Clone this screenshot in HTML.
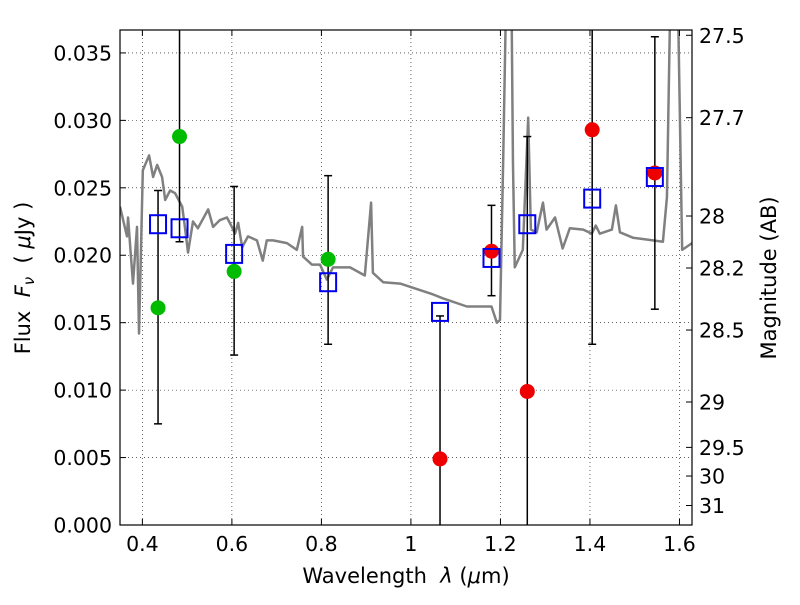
<!DOCTYPE html>
<html><head><meta charset="utf-8"><style>
body{margin:0;background:#fff;}
svg text{font-family:"DejaVu Sans","Liberation Sans",sans-serif;fill:#000;}
</style></head><body>
<svg id="c" width="800" height="600" xmlns="http://www.w3.org/2000/svg"></svg>
<script>
const xTicks=[0.4,0.6,0.8,1,1.2,1.4,1.6];
const xTickLabels=["0.4","0.6","0.8","1","1.2","1.4","1.6"];
const yTicks=[0,0.005,0.01,0.015,0.02,0.025,0.03,0.035];
const yTickLabels=["0.000","0.005","0.010","0.015","0.020","0.025","0.030","0.035"];
const magTicks=[27.5,27.7,28,28.2,28.5,29,29.5,30,31];
const magTickLabels=["27.5","27.7","28","28.2","28.5","29","29.5","30","31"];
const specX=[0.35,0.3656,0.368,0.379,0.388,0.3925,0.401,0.415,0.424,0.433,0.444,0.451,0.462,0.473,0.489,0.495,0.502,0.513,0.524,0.547,0.558,0.573,0.589,0.600,0.607,0.614,0.623,0.636,0.656,0.669,0.678,0.692,0.723,0.745,0.757,0.759,0.779,0.797,0.812,0.826,0.864,0.897,0.911,0.915,0.938,0.976,1.049,1.072,1.125,1.180,1.192,1.199,1.206,1.212,1.225,1.228,1.232,1.250,1.262,1.268,1.281,1.295,1.303,1.322,1.339,1.355,1.385,1.404,1.413,1.422,1.449,1.458,1.467,1.496,1.541,1.563,1.572,1.579,1.597,1.606,1.628];
const specY=[0.0236,0.0214,0.0228,0.0179,0.0221,0.0142,0.0263,0.0274,0.0258,0.0267,0.0258,0.0241,0.0248,0.0246,0.0236,0.0221,0.0202,0.0225,0.0220,0.0234,0.0221,0.0226,0.0228,0.0221,0.0216,0.0224,0.0206,0.0214,0.0211,0.0196,0.0211,0.0211,0.0209,0.0204,0.0221,0.0199,0.0193,0.0193,0.0182,0.0191,0.0191,0.0185,0.0239,0.0187,0.0180,0.0179,0.0171,0.0168,0.0162,0.0162,0.0150,0.0152,0.0268,0.0380,0.0380,0.0268,0.0191,0.0204,0.0302,0.0219,0.0217,0.0239,0.0219,0.0228,0.0205,0.0220,0.0219,0.0216,0.0222,0.0216,0.0219,0.0237,0.0217,0.0213,0.0211,0.0210,0.0243,0.0380,0.0380,0.0204,0.0209];
const modelX=[0.435,0.483,0.605,0.815,1.065,1.18,1.26,1.405,1.545];
const modelY=[0.0223,0.0220,0.0201,0.0180,0.0158,0.0198,0.0223,0.0242,0.0258];
const greenX=[0.435,0.483,0.605,0.815];
const greenY=[0.0161,0.0288,0.0188,0.0197];
const redX=[1.065,1.18,1.26,1.405,1.545];
const redY=[0.0049,0.0203,0.0099,0.0293,0.0261];
const errX=[0.435,0.483,0.605,0.815,1.065,1.18,1.26,1.405,1.545];
const errLo=[0.0075,0.0210,0.0126,0.0134,-0.002,0.0170,-0.002,0.0134,0.0160];
const errHi=[0.0248,0.0370,0.0251,0.0259,0.0155,0.0237,0.0288,0.0400,0.0362];

const L=120,R=692,T=30,B=525,X0=0.35,X1=1.628,Y1=0.0367;
const sx=v=>L+(v-X0)/(X1-X0)*(R-L);
const sy=v=>B-v/Y1*(B-T);
const svg=document.getElementById('c');
const NS='http://www.w3.org/2000/svg';
function mk(tag,attrs,parent){const e=document.createElementNS(NS,tag);for(const k in attrs)e.setAttribute(k,attrs[k]);(parent||svg).appendChild(e);return e;}
const defs=mk('defs',{});const cp=mk('clipPath',{id:'clip'},defs);mk('rect',{x:L,y:T,width:R-L,height:B-T},cp);
const grid=mk('g',{});


xTicks.forEach(t=>mk('line',{x1:sx(t),x2:sx(t),y1:T,y2:B,stroke:'#000','stroke-width':0.6,'stroke-dasharray':'1,3'},grid));
yTicks.forEach(t=>mk('line',{x1:L,x2:R,y1:sy(t),y2:sy(t),stroke:'#000','stroke-width':0.6,'stroke-dasharray':'1,3'},grid));
const pg=mk('g',{'clip-path':'url(#clip)'});
const sp=mk('polyline',{points:specX.map((x,i)=>sx(x)+','+sy(specY[i])).join(' '),fill:'none',stroke:'#808080','stroke-width':2.5,'stroke-linejoin':'round'},pg);


errX.forEach((x,i)=>{
 const g=mk('g',{},pg);
 
 
 const X=sx(x),a=sy(errLo[i]),b=sy(errHi[i]);
 mk('line',{x1:X,x2:X,y1:a,y2:b,stroke:'#000','stroke-width':1.5},g);
 mk('line',{x1:X-4,x2:X+4,y1:a,y2:a,stroke:'#000','stroke-width':1.5},g);
 mk('line',{x1:X-4,x2:X+4,y1:b,y2:b,stroke:'#000','stroke-width':1.5},g);
});
greenX.forEach((x,i)=>{const c=mk('circle',{cx:sx(x),cy:sy(greenY[i]),r:7.5,fill:'#00bb00'},pg);
 
 });
redX.forEach((x,i)=>{const c=mk('circle',{cx:sx(x),cy:sy(redY[i]),r:7.5,fill:'#ee0000'},pg);
 
 });
modelX.forEach((x,i)=>{const r=mk('rect',{x:sx(x)-8,y:sy(modelY[i])-9,width:16,height:18,fill:'none',stroke:'#0000ee','stroke-width':2},pg);
 
 });
mk('rect',{x:L,y:T,width:R-L,height:B-T,fill:'none',stroke:'#000','stroke-width':1.2});
xTicks.forEach((t,i)=>{const X=sx(t);
 mk('line',{x1:X,x2:X,y1:B,y2:B-6,stroke:'#000'});mk('line',{x1:X,x2:X,y1:T,y2:T+6,stroke:'#000'});
 const tx=mk('text',{x:X,y:B+26,'font-size':20.5,'text-anchor':'middle'});tx.textContent=xTickLabels[i];
 
 });
yTicks.forEach((t,i)=>{const Y=sy(t);
 mk('line',{x1:L,x2:L+6,y1:Y,y2:Y,stroke:'#000'});
 const tx=mk('text',{x:L-8,y:Y+7.5,'font-size':20.5,'text-anchor':'end'});tx.textContent=yTickLabels[i];
 
 });
magTicks.forEach((m,i)=>{const Y=sy(Math.pow(10,(23.9-m)/2.5));
 mk('line',{x1:R,x2:R-6,y1:Y,y2:Y,stroke:'#000'});
 const tx=mk('text',{x:R+7,y:Y+7.5,'font-size':20.5});tx.textContent=magTickLabels[i];
 
 });
</script>
<svg width="800" height="600" style="position:absolute;left:0;top:0" xmlns="http://www.w3.org/2000/svg">
<text x="406" y="583" font-size="21" text-anchor="middle">Wavelength&#160; <tspan font-style="italic">λ</tspan> (<tspan font-style="italic">μ</tspan>m)</text>
<text transform="translate(30,278) rotate(-90)" font-size="21" text-anchor="middle">Flux&#160; <tspan font-style="italic">F</tspan><tspan font-style="italic" font-size="15" dy="4">ν</tspan><tspan dy="-4">&#160;&#160;( </tspan><tspan font-style="italic">μ</tspan>Jy )</text>
<text transform="translate(776,278) rotate(-90)" font-size="21" text-anchor="middle">Magnitude (AB)</text>
</svg>
</body></html>
